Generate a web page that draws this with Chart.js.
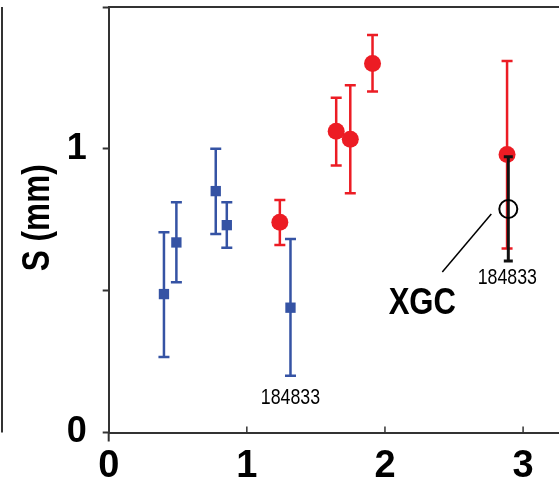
<!DOCTYPE html>
<html>
<head>
<meta charset="utf-8">
<script src="https://cdn.jsdelivr.net/npm/chart.js@4"></script>
<style>
  html, body { margin: 0; padding: 0; background: #fff; }
</style>
</head>
<body>
<canvas id="myChart" width="559" height="477"></canvas>
<script>
// blue squares
const blueX = [0.40, 0.49, 0.775, 0.855, 1.316];
const blueY = [0.488, 0.670, 0.851, 0.731, 0.440];
const blueLo = [0.266, 0.530, 0.700, 0.651, 0.200];
const blueHi = [0.706, 0.812, 1.000, 0.812, 0.682];

// red circles
const redX = [1.239, 1.647, 1.749, 1.910, 2.884];
const redY = [0.741, 1.062, 1.034, 1.301, 0.980];
const redLo = [0.661, 0.941, 0.843, 1.202, 0.649];
const redHi = [0.820, 1.180, 1.224, 1.401, 1.310];

// XGC simulation point
const xgcX = [2.893];
const xgcY = [0.788];
const xgcLo = [0.605];
const xgcHi = [0.972];

const shotLabel = "184833";
const xgcLabel = "XGC";
const yTitle = "S (mm)";

const sans = "'Liberation Sans', Arial, sans-serif";
const axisColor = "#333";
const blue = "#3553a4";
const red = "#ec1c24";

const toPoints = (xs, ys) => xs.map((x, i) => ({ x, y: ys[i] }));

// squeeze text horizontally to get a condensed face
function condensedText(c, text, x, y, sx, angle) {
  c.save();
  c.translate(x, y);
  if (angle) c.rotate(angle);
  c.scale(sx, 1);
  c.fillText(text, 0, 0);
  c.restore();
}

const errorBars = {
  id: "errorBars",
  beforeDatasetDraw(chart, args) {
    const ds = chart.data.datasets[args.index];
    if (!ds.errLo) return;
    const xs = chart.scales.x;
    const ys = chart.scales.y;
    const c = chart.ctx;
    c.save();
    c.strokeStyle = ds.errColor;
    c.lineWidth = ds.errWidth;
    ds.data.forEach((p, i) => {
      const px = xs.getPixelForValue(p.x);
      const top = ys.getPixelForValue(ds.errHi[i]);
      const bot = ys.getPixelForValue(ds.errLo[i]);
      c.beginPath();
      c.moveTo(px, top);
      c.lineTo(px, bot);
      c.moveTo(px - ds.capHalf, top);
      c.lineTo(px + ds.capHalf, top);
      c.moveTo(px - ds.capHalf, bot);
      c.lineTo(px + ds.capHalf, bot);
      c.stroke();
    });
    c.restore();
  },
};

const extras = {
  id: "extras",
  afterDraw(chart) {
    const c = chart.ctx;
    const area = chart.chartArea;
    const xs = chart.scales.x;
    const ys = chart.scales.y;
    c.save();
    c.strokeStyle = axisColor;
    c.lineWidth = 2;

    // frame top and left edge line
    c.beginPath();
    c.moveTo(area.left, area.top);
    c.lineTo(chart.width, area.top);
    c.moveTo(2, area.top);
    c.lineTo(2, area.bottom);
    // y axis overhang below the x axis
    c.moveTo(area.left, area.bottom);
    c.lineTo(area.left, area.bottom + 9);
    c.stroke();

    // x ticks point inward
    c.lineWidth = 1.5;
    xs.ticks.forEach((t) => {
      if (t.value === 0) return;
      const px = xs.getPixelForValue(t.value);
      c.beginPath();
      c.moveTo(px, area.bottom);
      c.lineTo(px, area.bottom - 6);
      c.stroke();
    });

    c.fillStyle = "#000";
    c.textAlign = "center";
    c.textBaseline = "middle";

    // y axis title
    c.font = "bold 38px " + sans;
    condensedText(c, yTitle, 39, (area.top + area.bottom) / 2 - 2, 0.83, -Math.PI / 2);

    // shot number labels
    c.font = "22.5px " + sans;
    const bi = blueX.length - 1;
    condensedText(c, shotLabel, xs.getPixelForValue(blueX[bi]), ys.getPixelForValue(blueLo[bi]) + 22, 0.79);
    condensedText(c, shotLabel, xs.getPixelForValue(xgcX[0]) - 1, ys.getPixelForValue(xgcLo[0]) + 17, 0.79);

    // XGC leader line and label
    const gx = xs.getPixelForValue(xgcX[0]);
    const gy = ys.getPixelForValue(xgcY[0]);
    c.strokeStyle = "#000";
    c.lineWidth = 1.5;
    c.beginPath();
    c.moveTo(gx - 17, gy + 5);
    c.lineTo(gx - 66, gy + 63);
    c.stroke();
    c.font = "bold 37px " + sans;
    condensedText(c, xgcLabel, gx - 86, gy + 95, 0.84);
    c.restore();
  },
};

const config = {
  type: "scatter",
  data: {
    datasets: [
      {
        data: toPoints(xgcX, xgcY),
        pointStyle: "circle",
        pointRadius: 9,
        pointBackgroundColor: "rgba(0,0,0,0)",
        pointBorderColor: "#000",
        pointBorderWidth: 2,
        errLo: xgcLo,
        errHi: xgcHi,
        errColor: "#111",
        errWidth: 3,
        capHalf: 4.5,
      },
      {
        data: toPoints(redX, redY),
        pointStyle: "circle",
        pointRadius: 8.5,
        pointBackgroundColor: red,
        pointBorderColor: red,
        pointBorderWidth: 0,
        errLo: redLo,
        errHi: redHi,
        errColor: red,
        errWidth: 2.5,
        capHalf: 5.5,
      },
      {
        data: toPoints(blueX, blueY),
        pointStyle: "rect",
        pointRadius: 7.3,
        pointBackgroundColor: blue,
        pointBorderColor: blue,
        pointBorderWidth: 0,
        errLo: blueLo,
        errHi: blueHi,
        errColor: blue,
        errWidth: 2.5,
        capHalf: 5.5,
      },
    ],
  },
  options: {
    responsive: false,
    devicePixelRatio: 1,
    animation: false,
    clip: false,
    layout: { autoPadding: false, padding: { top: 7, right: 0, left: 0, bottom: 0 } },
    plugins: {
      legend: { display: false },
      tooltip: { enabled: false },
    },
    scales: {
      x: {
        type: "linear",
        min: 0,
        max: 3.26,
        afterFit: (scale) => {
          scale.height = 44.5;
          scale.paddingLeft = 0;
          scale.paddingRight = 0;
        },
        border: { display: true, color: axisColor, width: 2 },
        grid: { display: false },
        ticks: {
          stepSize: 1,
          includeBounds: false,
          padding: 3,
          color: "#000",
          font: { family: sans, size: 38, weight: "bold" },
          maxRotation: 0,
        },
      },
      y: {
        type: "linear",
        min: 0,
        max: 1.5,
        afterFit: (scale) => {
          scale.width = 108.7;
          scale.paddingTop = 0;
          scale.paddingBottom = 0;
        },
        border: { display: true, color: axisColor, width: 2 },
        grid: {
          display: true,
          drawOnChartArea: false,
          drawTicks: true,
          tickLength: 6,
          tickWidth: 2,
          tickColor: axisColor,
        },
        ticks: {
          stepSize: 0.5,
          padding: 16,
          color: "#000",
          font: { family: sans, size: 36, weight: "bold" },
          callback: (v) => (v % 1 === 0 && v < 1.5 ? v : ""),
        },
      },
    },
  },
  plugins: [errorBars, extras],
};

const myChart = new Chart(document.getElementById("myChart").getContext("2d"), config);
</script>
</body>
</html>
